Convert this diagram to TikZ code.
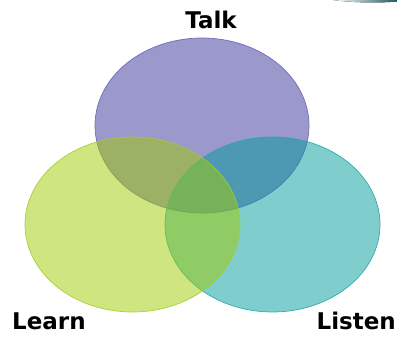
\documentclass[tikz,border=0pt]{standalone}
\usepackage{fontspec}
\setmainfont{DejaVu Sans}
\usepackage{tikz}
\usetikzlibrary{positioning}
\definecolor{talkfill}{HTML}{373199}
\definecolor{talkline}{HTML}{6A63B3}
\definecolor{listenfill}{HTML}{009B9B}
\definecolor{listenline}{HTML}{27A6A6}
\definecolor{learnfill}{HTML}{9FCB00}
\definecolor{learnline}{HTML}{A6CC2E}
\definecolor{cornerteal}{HTML}{1E5C64}
\tikzset{
  venn/.style={fill opacity=0.5,draw opacity=0.9,line width=0.7pt},
  word/.style={font=\fontsize{23}{23}\selectfont\bfseries,inner sep=0pt}
}
\begin{document}
\begin{tikzpicture}[line cap=round,line join=round,x=1pt,y=-1pt]
\useasboundingbox (0,0) rectangle (397,337);
% corner piece
\fill[left color=white,right color=cornerteal] (333,0) .. controls (355,3) and (380,3) .. (397,1.5) -- (397,0) -- cycle;
% circles
\draw[venn,fill=talkfill,draw=talkline] (202,125.5) ellipse [x radius=107,y radius=87.5];
\draw[venn,fill=listenfill,draw=listenline] (272.5,224.5) ellipse [x radius=107.5,y radius=87.5];
\draw[venn,fill=learnfill,draw=learnline] (132.5,224.5) ellipse [x radius=107.5,y radius=87.5];
% labels
\node[word,anchor=base] (talk) at (211,29) {Talk};
\node[word,anchor=base west] (learn) at (12,329) {Learn};
\node[word,anchor=base east] (listen) at (396,329) {Listen};
\end{tikzpicture}
\end{document}
